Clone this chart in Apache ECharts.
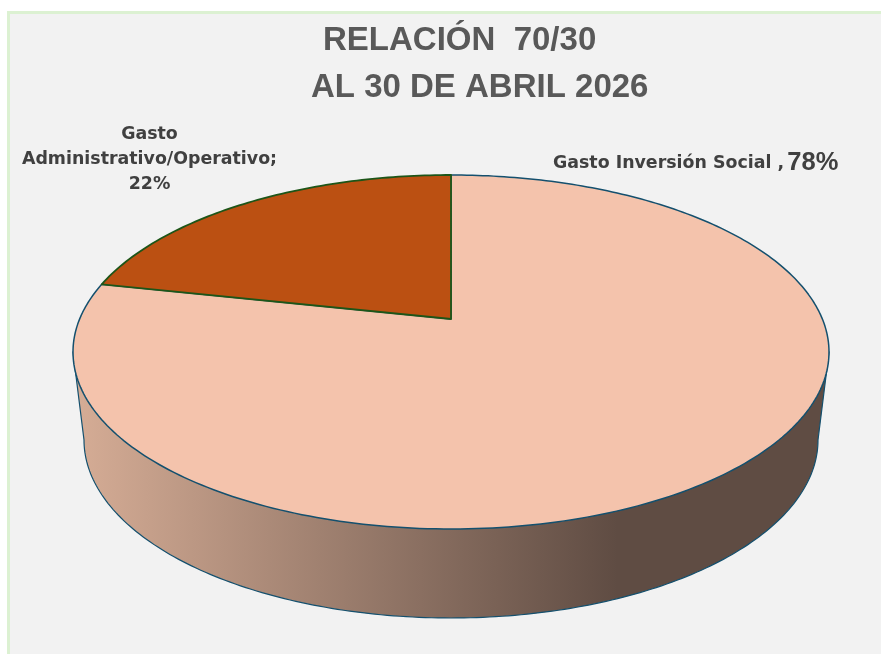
<!DOCTYPE html>
<html>
<head>
<meta charset="utf-8">
<style>
  html, body { margin: 0; padding: 0; background: #fff; }
  #chart { width: 881px; height: 654px; }
</style>
<script src="https://cdn.jsdelivr.net/npm/echarts@6/dist/echarts.min.js"></script>
</head>
<body>
<div id="chart"></div>
<script>
const categories = ['Gasto Inversión Social', 'Gasto Administrativo/Operativo']
const shares = [78, 22]
const sliceColors = ['#f4c3ac', '#bb5012']
const sliceBorders = ['#14506e', '#1d5518']

// disc geometry, the apex sits above the ellipse centre because of the perspective
const disc = { cx: 451, cy: 352, rx: 378, ry: 177, apexY: 319, tilt: 0.21 }
const base = { cx: 451, cy: 440, rx: 367, ry: 178 }

function rimPoint(turn) {
  const a = turn * Math.PI * 2
  const X = Math.sin(a)
  const Y = Math.cos(a)
  const t = disc.tilt
  const d = 1 + t * Y
  return [
    disc.cx + disc.rx * X * Math.sqrt(1 - t * t) / d,
    disc.cy - disc.ry * (Y + t) / d
  ]
}

function renderSlice(params, api) {
  const total = shares.reduce((a, b) => a + b, 0)
  const before = shares.slice(0, params.dataIndex).reduce((a, b) => a + b, 0)
  const from = before / total
  const to = (before + api.value(0)) / total
  const points = [[disc.cx, disc.apexY]]
  const steps = Math.ceil((to - from) * 360)
  for (let i = 0; i <= steps; i++) {
    points.push(rimPoint(from + (to - from) * i / steps))
  }
  return {
    type: 'polygon',
    shape: { points },
    style: {
      fill: sliceColors[params.dataIndex],
      stroke: sliceBorders[params.dataIndex],
      lineWidth: params.dataIndex === 0 ? 1.5 : 1.8,
      lineJoin: 'round'
    }
  }
}

function renderSide() {
  const points = [[disc.cx - disc.rx, disc.cy]]
  for (let deg = 180; deg >= 0; deg--) {
    const a = deg * Math.PI / 180
    points.push([base.cx + base.rx * Math.cos(a), base.cy + base.ry * Math.sin(a)])
  }
  points.push([disc.cx + disc.rx, disc.cy])
  return {
    type: 'polygon',
    shape: { points },
    style: {
      fill: new echarts.graphic.LinearGradient(0, 0, 1, 0, [
        { offset: 0, color: '#d6ad96' },
        { offset: 0.72, color: '#5f4c43' },
        { offset: 1, color: '#5f4c43' }
      ]),
      stroke: '#14506e',
      lineWidth: 1.2
    }
  }
}

const labelFont = { fontFamily: 'DejaVu Sans', fontWeight: 'bold', fill: '#404040' }

function renderLabels() {
  return {
    type: 'group',
    children: [
      {
        type: 'text',
        x: 149.5,
        y: 159,
        style: {
          text: 'Gasto\nAdministrativo/Operativo;\n' + shares[1] + '%',
          align: 'center',
          verticalAlign: 'middle',
          lineHeight: 25,
          fontSize: 17.4,
          ...labelFont
        }
      },
      {
        type: 'text',
        x: 553,
        y: 163,
        style: {
          text: '{a|' + categories[0] + ' ,} {b|' + shares[0] + '%}',
          align: 'left',
          verticalAlign: 'middle',
          rich: {
            a: { fontSize: 17.4, ...labelFont },
            b: { fontSize: 25.5, fontFamily: 'Liberation Sans', fontWeight: 'bold', fill: '#404040' }
          }
        }
      }
    ]
  }
}

const titleStyle = { fontFamily: 'Liberation Sans', fontSize: 33, fontWeight: 'bold', color: '#595959' }

const chart = echarts.init(document.getElementById('chart'))
chart.setOption({
  animation: false,
  backgroundColor: '#fff',
  title: [
    { text: 'RELACIÓN  70/30', left: 318, top: 19, textStyle: titleStyle },
    { text: 'AL 30 DE ABRIL 2026', left: 306, top: 66, textStyle: titleStyle }
  ],
  graphic: [
    { type: 'rect', z: 0, shape: { x: 7, y: 11, width: 874, height: 643 }, style: { fill: '#dcf1d2' } },
    { type: 'rect', z: 0, shape: { x: 10, y: 14, width: 871, height: 640 }, style: { fill: '#f2f2f2' } }
  ],
  series: [
    { type: 'custom', coordinateSystem: 'none', silent: true, z: 2, data: [0], renderItem: renderSide },
    {
      type: 'custom',
      coordinateSystem: 'none',
      silent: true,
      z: 3,
      data: categories.map((name, i) => ({ name, value: shares[i] })),
      renderItem: renderSlice
    },
    { type: 'custom', coordinateSystem: 'none', silent: true, z: 4, data: [0], renderItem: renderLabels }
  ]
})
</script>
</body>
</html>
